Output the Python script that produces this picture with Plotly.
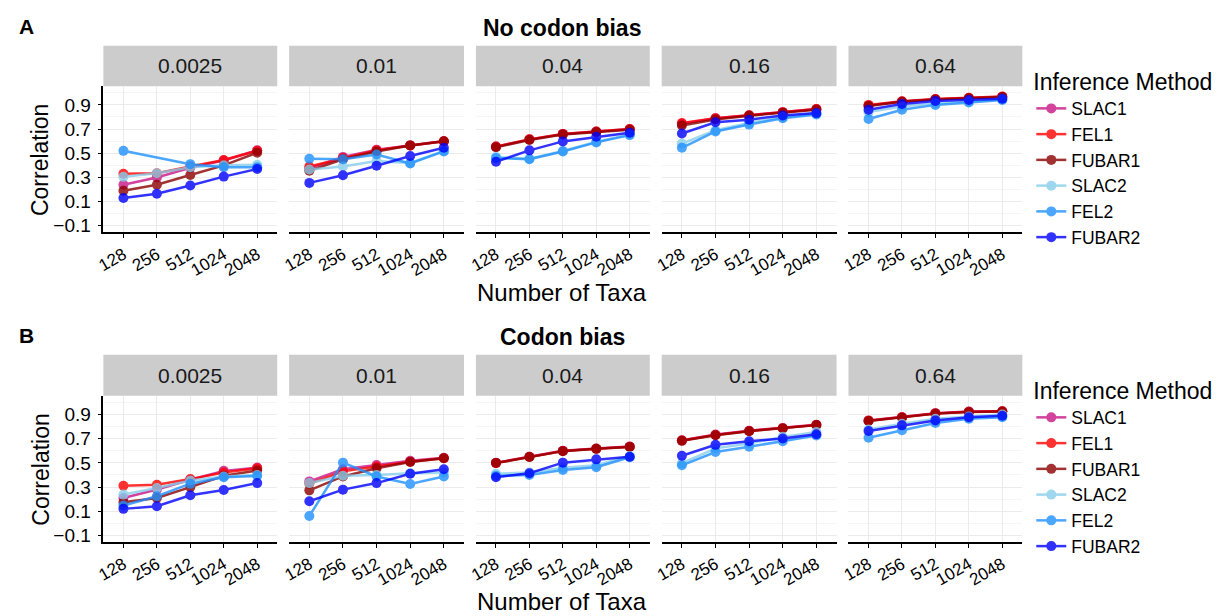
import plotly.graph_objects as go

W, H = 1227, 616
taxa = ["128", "256", "512", "1024", "2048"]
rates = ["0.0025", "0.01", "0.04", "0.16", "0.64"]
methods = ["SLAC1", "FEL1", "FUBAR1", "SLAC2", "FEL2", "FUBAR2"]
colors = ["#C71585", "#FF0000", "#8B0000", "#87CEEB", "#1E90FF", "#0000FF"]

# Panel A: No codon bias (one list of 5 values per rate facet)
A_SLAC1 = [[0.24, 0.30, 0.38, 0.44, 0.525], [0.375, 0.47, 0.53, 0.565, 0.60], [0.555, 0.615, 0.66, 0.68, 0.70], [0.745, 0.79, 0.815, 0.84, 0.865], [0.895, 0.927, 0.946, 0.957, 0.968]]
A_FEL1 = [[0.33, 0.335, 0.39, 0.445, 0.52], [0.39, 0.46, 0.525, 0.565, 0.60], [0.555, 0.615, 0.66, 0.68, 0.70], [0.75, 0.79, 0.815, 0.84, 0.865], [0.90, 0.93, 0.948, 0.958, 0.97]]
A_FUBAR1 = [[0.19, 0.24, 0.32, 0.40, 0.505], [0.355, 0.45, 0.515, 0.565, 0.60], [0.55, 0.61, 0.655, 0.675, 0.695], [0.73, 0.78, 0.81, 0.835, 0.86], [0.89, 0.925, 0.944, 0.955, 0.966]]
A_SLAC2 = [[0.305, 0.335, 0.385, 0.40, 0.405], [0.365, 0.39, 0.435, 0.42, 0.52], [0.47, 0.455, 0.52, 0.595, 0.655], [0.58, 0.69, 0.75, 0.80, 0.827], [0.84, 0.886, 0.914, 0.93, 0.946]]
A_FEL2 = [[0.52, None, 0.41, 0.385, 0.385], [0.455, 0.45, 0.49, 0.415, 0.515], [0.46, 0.45, 0.515, 0.59, 0.65], [0.545, 0.68, 0.737, 0.79, 0.82], [0.783, 0.86, 0.90, 0.92, 0.94]]
A_FUBAR2 = [[0.13, 0.165, 0.233, 0.307, 0.37], [0.255, 0.318, 0.397, 0.478, 0.546], [0.43, 0.524, 0.598, 0.636, 0.67], [0.663, 0.756, 0.778, 0.813, 0.832], [0.86, 0.908, 0.933, 0.94, 0.95]]

# Panel B: Codon bias
B_SLAC1 = [[0.21, 0.28, 0.36, 0.434, 0.461], [0.347, 0.448, 0.483, 0.518, 0.543], [0.502, 0.551, 0.60, 0.619, 0.636], [0.687, 0.734, 0.766, 0.788, 0.816], [0.851, 0.878, 0.911, 0.925, 0.927]]
B_FEL1 = [[0.311, 0.32, 0.366, 0.42, 0.456], [0.328, 0.43, 0.47, 0.51, 0.538], [0.50, 0.55, 0.598, 0.617, 0.634], [0.685, 0.73, 0.764, 0.786, 0.813], [0.849, 0.876, 0.909, 0.923, 0.926]]
B_FUBAR1 = [[0.175, 0.21, 0.30, 0.393, 0.437], [0.273, 0.388, 0.456, 0.508, 0.538], [0.498, 0.548, 0.597, 0.616, 0.632], [0.682, 0.728, 0.762, 0.785, 0.812], [0.846, 0.874, 0.907, 0.921, 0.924]]
B_SLAC2 = [[0.238, 0.292, 0.355, 0.388, 0.40], [0.333, 0.393, 0.40, 0.415, 0.42], [0.41, 0.42, 0.459, 0.48, 0.557], [0.497, 0.62, 0.66, 0.715, 0.756], [0.775, 0.824, 0.865, 0.884, 0.90]]
B_FEL2 = [[0.148, 0.224, 0.328, 0.382, 0.393], [0.061, 0.502, 0.388, 0.325, 0.388], [0.393, 0.40, 0.442, 0.464, 0.546], [0.48, 0.59, 0.633, 0.679, 0.726], [0.707, 0.769, 0.829, 0.865, 0.878]]
B_FUBAR2 = [[0.12, 0.142, 0.232, 0.276, 0.333], [0.183, 0.279, 0.333, 0.41, 0.448], [0.382, 0.415, 0.502, 0.529, 0.551], [0.559, 0.649, 0.679, 0.701, 0.737], [0.764, 0.81, 0.851, 0.878, 0.889]]

panels = [
    dict(title="No codon bias", letter="A", data=[A_SLAC1, A_FEL1, A_FUBAR1, A_SLAC2, A_FEL2, A_FUBAR2],
         plot=(86.7, 234.0), strip=(46.0, 86.7), legend="legend", title_y=28, legend_top=61),
    dict(title="Codon bias", letter="B", data=[B_SLAC1, B_FEL1, B_FUBAR1, B_SLAC2, B_FEL2, B_FUBAR2],
         plot=(398.3, 545.7), strip=(357.0, 398.3), legend="legend2", title_y=339, legend_top=372),
]
col_px = [(96, 271), (283, 459), (471, 646), (658, 834), (846, 1021)]

FONT = "Liberation Sans, Arial, sans-serif"
fig = go.Figure()
layout = dict(width=W, height=H, margin=dict(l=0, r=0, t=0, b=0),
              plot_bgcolor="white", paper_bgcolor="white",
              font=dict(family=FONT, color="black"), shapes=[], annotations=[])

def px_x(x):
    return x / W

def px_y(y):
    return 1 - y / H

ax = 0
for p_i, p in enumerate(panels):
    top, bot = p["plot"]
    for c, (x0, x1) in enumerate(col_px):
        ax += 1
        xa = "xaxis" if ax == 1 else f"xaxis{ax}"
        ya = "yaxis" if ax == 1 else f"yaxis{ax}"
        xr = "x" if ax == 1 else f"x{ax}"
        yr = "y" if ax == 1 else f"y{ax}"
        layout[xa] = dict(domain=[px_x(x0), px_x(x1)], anchor=yr, type="category",
                          categoryorder="array", categoryarray=taxa,
                          range=[-0.6, 4.6], showline=True, linecolor="black", linewidth=1.5,
                          ticks="outside", ticklen=4, tickcolor="black", tickwidth=1,
                          tickangle=-30, tickfont=dict(size=17, color="black"),
                          showgrid=True, gridcolor="#EBEBEB", gridwidth=1, zeroline=False)
        ydict = dict(domain=[px_y(bot), px_y(top)], anchor=xr, range=[-0.155, 1.055],
                     tick0=0.1, dtick=0.2, showgrid=True, gridcolor="#EBEBEB", gridwidth=1,
                     minor=dict(dtick=0.1, tick0=0.0, showgrid=True, gridcolor="#F5F5F5", gridwidth=1),
                     zeroline=False)
        if c == 0:
            ydict.update(showline=True, linecolor="black", linewidth=1.5, ticks="outside", ticklen=4,
                         tickcolor="black", tickwidth=1, showticklabels=True, ticklabelstandoff=3,
                         tickfont=dict(size=19, color="black"), tickformat=".1f")
        else:
            ydict.update(showline=False, ticks="", showticklabels=False)
        layout[ya] = ydict

        for m_i, m in enumerate(methods):
            fig.add_trace(go.Scatter(
                x=taxa, y=p["data"][m_i][c], xaxis=xr, yaxis=yr, name=m,
                mode="lines+markers", connectgaps=True, opacity=0.8,
                line=dict(color=colors[m_i], width=2.5),
                marker=dict(color=colors[m_i], size=10),
                showlegend=(c == 0), legend=p["legend"]))

        s0, s1 = p["strip"]
        layout["shapes"].append(dict(type="rect", xref="paper", yref="paper",
                                     x0=px_x(x0), x1=px_x(x1), y0=px_y(s1), y1=px_y(s0),
                                     fillcolor="#CCCCCC", line=dict(width=0), layer="below"))
        layout["annotations"].append(dict(text=rates[c], xref="paper", yref="paper",
                                          x=px_x((x0 + x1) / 2), y=px_y((s0 + s1) / 2),
                                          showarrow=False, font=dict(size=21, color="#1A1A1A"),
                                          xanchor="center", yanchor="middle"))

    ty = p["title_y"]
    layout["annotations"].append(dict(text=f"<b>{p['title']}</b>", xref="paper", yref="paper",
                                      x=px_x(558), y=px_y(ty), showarrow=False,
                                      font=dict(size=23), xanchor="center", yanchor="middle"))
    layout["annotations"].append(dict(text=f"<b>{p['letter']}</b>", xref="paper", yref="paper",
                                      x=px_x(9), y=px_y(ty - 1), showarrow=False,
                                      font=dict(size=21), xanchor="left", yanchor="middle"))
    layout["annotations"].append(dict(text="Number of Taxa", xref="paper", yref="paper",
                                      x=px_x(558), y=px_y(bot + 60), showarrow=False,
                                      font=dict(size=24), xanchor="center", yanchor="middle"))
    layout["annotations"].append(dict(text="Correlation", xref="paper", yref="paper",
                                      x=px_x(33), y=px_y((top + bot) / 2), showarrow=False,
                                      textangle=-90, font=dict(size=23),
                                      xanchor="center", yanchor="middle"))

    layout[p["legend"]] = dict(x=px_x(1030), y=px_y(p["legend_top"]), xanchor="left", yanchor="top",
                               bgcolor="rgba(0,0,0,0)", font=dict(size=17.5), itemwidth=30,
                               tracegroupgap=0,
                               title=dict(text="Inference Method", font=dict(size=23), side="top"))

fig.update_layout(**layout)
fig.write_html("out.html", config={"displayModeBar": False},
               post_script="document.body.style.margin='0px';")
